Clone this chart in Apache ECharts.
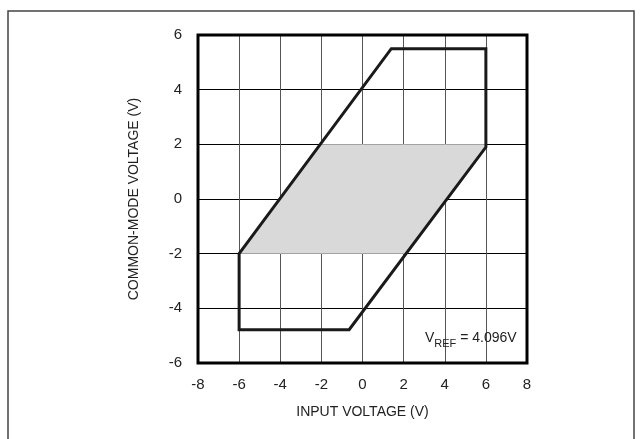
<!DOCTYPE html>
<html><head><meta charset="utf-8">
<script src="https://cdn.jsdelivr.net/npm/echarts@6/dist/echarts.min.js"></script>
<style>html,body{margin:0;padding:0;background:#fff}#c{width:642px;height:439px}</style>
</head><body><div id="c"></div>
<script>
// Boundary of the allowed input/common-mode region (x: input V, y: common-mode V)
const boundaryX = [-6, 1.4, 6, 6, -0.65, -6, -6];
const boundaryY = [-2, 5.5, 5.5, 1.9, -4.78, -4.78, -2];
// Shaded region (parallelogram)
const shadeX = [-6, -2.1, 6, 2.1];
const shadeY = [-2, 2, 2, -2];
const xTicks = [-8, -6, -4, -2, 0, 2, 4, 6, 8];
const yTicks = [-6, -4, -2, 0, 2, 4, 6];
const xName = 'INPUT VOLTAGE (V)';
const yName = 'COMMON-MODE VOLTAGE (V)';

const FONT = '"Liberation Sans Narrow", "Liberation Sans", Arial, sans-serif';
const chart = echarts.init(document.getElementById('c'), null, {renderer: 'canvas'});
const boundary = boundaryX.map((x, i) => [x, boundaryY[i]]);
const shade = shadeX.map((x, i) => [x, shadeY[i]]);

chart.setOption({
  animation: false,
  backgroundColor: '#fff',
  grid: {left: 198, top: 35, width: 329, height: 328, show: true, borderColor: '#000', borderWidth: 3, backgroundColor: 'transparent', z: 5},
  xAxis: {
    type: 'value', min: xTicks[0], max: xTicks[xTicks.length - 1], interval: 2,
    name: xName, nameLocation: 'middle', nameGap: 42,
    nameTextStyle: {fontFamily: FONT, fontSize: 14, color: '#222'},
    axisLine: {show: false}, axisTick: {show: false},
    axisLabel: {fontFamily: FONT, fontSize: 15, color: '#222', margin: 14},
    splitLine: {show: true, lineStyle: {color: '#555', width: 1}}
  },
  yAxis: {
    type: 'value', min: yTicks[0], max: yTicks[yTicks.length - 1], interval: 2,
    name: yName, nameLocation: 'middle', nameGap: 57, nameRotate: 90,
    nameTextStyle: {fontFamily: FONT, fontSize: 14, color: '#222'},
    axisLine: {show: false}, axisTick: {show: false},
    axisLabel: {fontFamily: FONT, fontSize: 15, color: '#222', margin: 16},
    splitLine: {show: true, lineStyle: {color: '#000', width: 1}}
  },
  series: [
    {
      type: 'custom', z: 1,
      renderItem: function (params, api) {
        if (params.dataIndex !== 0) return;
        const pts = shade.map(p => api.coord(p));
        return {type: 'polygon', shape: {points: pts}, style: {fill: '#d9d9d9'}};
      },
      data: shade
    },
    {
      type: 'line', z: 3, data: boundary, symbol: 'none',
      lineStyle: {color: '#1a1a1a', width: 3, join: 'miter'}
    }
  ],
  graphic: [
    {type: 'rect', shape: {x: 8, y: 11, width: 626, height: 440}, style: {fill: 'none', stroke: '#444', lineWidth: 1.5}, z: 0},
    {type: 'text', left: 425, top: 331, z: 10,
     style: {text: '{a|V}{b|REF}{a| = 4.096V}', font: '14px ' + FONT,
       rich: {a: {fontFamily: FONT, fontSize: 14, fill: '#222', lineHeight: 20, verticalAlign: 'bottom'},
              b: {fontFamily: FONT, fontSize: 11, fill: '#222', lineHeight: 14, verticalAlign: 'bottom', padding: [0, 0, -4, 0]}}}}
  ]
});
</script></body></html>
